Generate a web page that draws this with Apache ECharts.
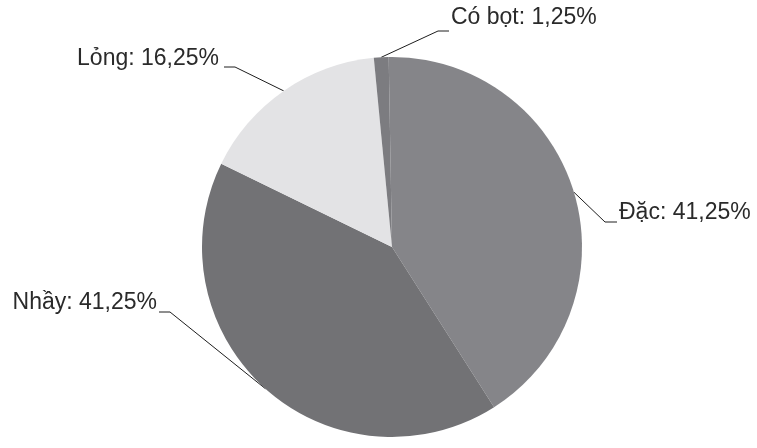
<!DOCTYPE html>
<html><head><meta charset="utf-8">
<script src="https://cdn.jsdelivr.net/npm/echarts@6/dist/echarts.min.js"></script>
<style>html,body{margin:0;padding:0;background:#fff}#c{width:757px;height:448px}</style>
</head><body><div id="c"></div>
<script>
var categories = ['Đặc', 'Nhầy', 'Lỏng', 'Có bọt'];
var values = [41.25, 41.25, 16.25, 1.25];
var colors = ['#858589', '#727275', '#e3e3e5', '#7c7c80'];

// label anchor placement: [textX, textCenterY, align, elbowX, elbowY, endX]
var labelPlace = [
  [619, 213, 'left', 605, 222, 617],
  [157, 303, 'right', 170, 312, 159],
  [219, 59, 'right', 235, 67, 224],
  [451, 18, 'left', 438, 31, 449]
];

var chart = echarts.init(document.getElementById('c'), null, {renderer: 'canvas'});
chart.setOption({
  animation: false,
  backgroundColor: '#fff',
  series: [{
    type: 'pie',
    center: [392, 247],
    radius: 190,
    startAngle: 91,
    clockwise: true,
    itemStyle: { borderWidth: 0 },
    emphasis: { disabled: true },
    data: categories.map(function (c, i) {
      return { name: c, value: values[i], itemStyle: { color: colors[i], borderWidth: 0 } };
    }),
    label: {
      show: true,
      formatter: function (p) { return p.name + ': ' + p.value.toFixed(2).replace('.', ',') + '%'; },
      fontFamily: 'Liberation Sans',
      fontSize: 23,
      color: '#2a2a2a'
    },
    labelLine: { show: true, length: 20, length2: 10, lineStyle: { color: '#1e1e1e', width: 1 } },
    labelLayout: function (p) {
      var lp = labelPlace[p.dataIndex];
      var start = p.labelLinePoints ? p.labelLinePoints[0] : [lp[3], lp[4]];
      return {
        x: lp[0], y: lp[1], align: lp[2], verticalAlign: 'middle',
        labelLinePoints: [start, [lp[3], lp[4]], [lp[5], lp[4]]]
      };
    }
  }]
});
</script></body></html>
